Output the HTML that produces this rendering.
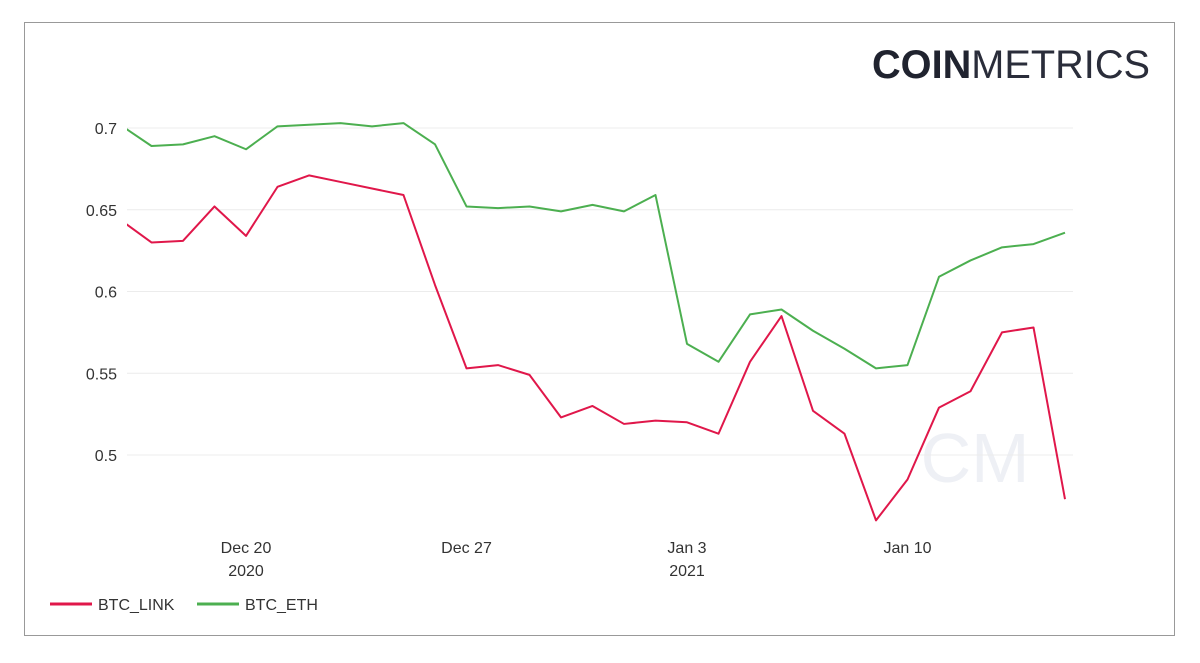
<!DOCTYPE html>
<html><head><meta charset="utf-8"><style>
body{margin:0;background:#fff;font-family:"Liberation Sans",sans-serif;}
#frame{position:absolute;left:24px;top:22px;width:1151px;height:614px;border:1px solid #999;box-sizing:border-box;}
</style></head><body>
<div id="frame"></div>
<svg id="chart" width="1200" height="663" style="position:absolute;left:0;top:0">
<text x="872" y="78" font-size="40" fill="#20232f" font-weight="bold" textLength="278" lengthAdjust="spacingAndGlyphs">COIN<tspan font-weight="normal" fill="#2a2d3a">METRICS</tspan></text>
<text x="975" y="482" font-size="70" fill="#eef0f5" text-anchor="middle">CM</text>
<g id="grid"></g><g id="xt"></g><g id="lines"></g>
<g>
<line x1="50" y1="604" x2="92" y2="604" stroke="#e0174a" stroke-width="3"/>
<text x="98" y="610" font-size="16" fill="#333">BTC_LINK</text>
<line x1="197" y1="604" x2="239" y2="604" stroke="#4caf50" stroke-width="3"/>
<text x="245" y="610" font-size="16" fill="#333">BTC_ETH</text>
</g>
</svg>
<script>
const days=[-4,-3,-2,-1,0,1,2,3,4,5,6,7,8,9,10,11,12,13,14,15,16,17,18,19,20,21,22,23,24,25,26];
const btcLink=[.644,.630,.631,.652,.634,.664,.671,.667,.663,.659,.604,.553,.555,.549,.523,.530,.519,.521,.520,.513,.557,.585,.527,.513,.460,.485,.529,.539,.575,.578,.473];
const btcEth=[.702,.689,.690,.695,.687,.701,.702,.703,.701,.703,.690,.652,.651,.652,.649,.653,.649,.659,.568,.557,.586,.589,.576,.565,.553,.555,.609,.619,.627,.629,.636];
const yTicks=[0.5,0.55,0.6,0.65,0.7];
const yLabels=["0.5","0.55","0.6","0.65","0.7"];
const xTickDays=[0,7,14,21];
const xTickLabels=[["Dec 20","2020"],["Dec 27",""],["Jan 3","2021"],["Jan 10",""]];
const X=d=>246+31.5*d, Y=v=>128+(0.7-v)*1635;
const ns="http://www.w3.org/2000/svg";
const svg=document.getElementById('chart');
function mk(t,a,p){const e=document.createElementNS(ns,t);for(const k in a)e.setAttribute(k,a[k]);p.appendChild(e);return e;}
const defs=mk('defs',{},svg);const cp=mk('clipPath',{id:'clip'},defs);mk('rect',{x:127,y:60,width:960,height:500},cp);
const grid=document.getElementById('grid');
yTicks.forEach((v,i)=>{
 const l=mk('line',{x1:127,x2:1073,y1:Y(v),y2:Y(v),stroke:'#ececec'},grid);
 
 
 const t=mk('text',{x:117,y:Y(v)+6,'text-anchor':'end','font-size':16,fill:'#333'},grid);t.textContent=yLabels[i];
 
 
});
const xt=document.getElementById('xt');
xTickDays.forEach((d,i)=>{
 xTickLabels[i].forEach((s,j)=>{if(!s)return;
  const t=mk('text',{x:X(d),y:553+j*23,'text-anchor':'middle','font-size':16,fill:'#333'},xt);t.textContent=s;
  
  
 });
});
const lg=document.getElementById('lines');lg.setAttribute('clip-path','url(#clip)');
[[btcLink,'#e0174a','btc-link-line'],[btcEth,'#4caf50','btc-eth-line']].forEach(([s,c,n])=>{
 const p=mk('polyline',{points:days.map((d,i)=>X(d)+','+Y(s[i])).join(' '),fill:'none',stroke:c,'stroke-width':2,'stroke-linejoin':'round'},lg);
 
 
});
</script>
</body></html>
